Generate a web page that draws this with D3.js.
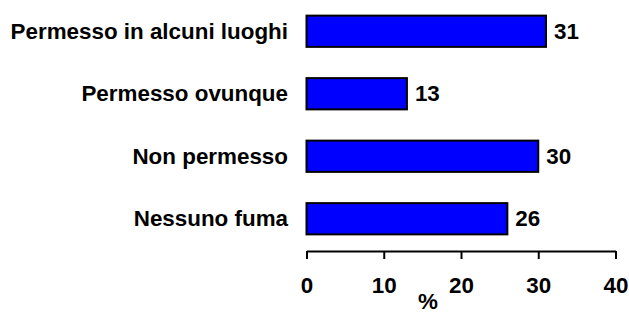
<!DOCTYPE html>
<html><head><meta charset="utf-8">
<script src="https://cdn.jsdelivr.net/npm/d3@7"></script>
<style>body{margin:0;background:#fff;overflow:hidden}svg{display:block}text{font-family:"Liberation Sans",Arial,sans-serif;font-weight:bold}</style>
</head><body>
<script>
const categories = ["Permesso in alcuni luoghi","Permesso ovunque","Non permesso","Nessuno fuma"];
const values = [31,13,30,26];
const xTicks = [0,10,20,30,40];
const xLabel = "%";

const W=629,H=313;
const svg=d3.select("body").append("svg").attr("width",W).attr("height",H);
const x=d3.scaleLinear().domain([0,40]).range([306.5,615.5]);
const y=d3.scaleBand().domain(categories).range([0,250]).paddingInner(0.5).paddingOuter(0.25);
const FS=22.4;

svg.selectAll("rect.bar").data(values).join("rect").attr("class","bar")
  .attr("x",x(0)).attr("y",(d,i)=>y(categories[i]))
  .attr("width",d=>x(d)-x(0)).attr("height",y.bandwidth())
  .attr("fill","#0000ff").attr("stroke","#000").attr("stroke-width",2);

svg.selectAll("text.val").data(values).join("text").attr("class","val")
  .attr("x",d=>x(d)+8).attr("y",(d,i)=>y(categories[i])+y.bandwidth()/2+7.5)
  .attr("font-size",FS).text(d=>d);

svg.selectAll("text.cat").data(categories).join("text").attr("class","cat")
  .attr("x",288).attr("y",d=>y(d)+y.bandwidth()/2+7.5)
  .attr("text-anchor","end").attr("font-size",FS).text(d=>d);

const ax=svg.append("g").attr("transform","translate(0,251)")
  .call(d3.axisBottom(x).tickValues(xTicks).tickSize(8).tickPadding(18).tickSizeOuter(0));
ax.select(".domain").attr("stroke","#000").attr("stroke-width",2);
ax.selectAll(".tick line").attr("stroke","#000").attr("stroke-width",2);
ax.selectAll(".tick text").attr("font-size",FS).attr("fill","#000")
  .style("font-family",'"Liberation Sans",Arial,sans-serif').style("font-weight","bold");

svg.append("text").attr("x",428).attr("y",309).attr("text-anchor","middle")
  .attr("font-size",FS).text(xLabel);
</script>
</body></html>
